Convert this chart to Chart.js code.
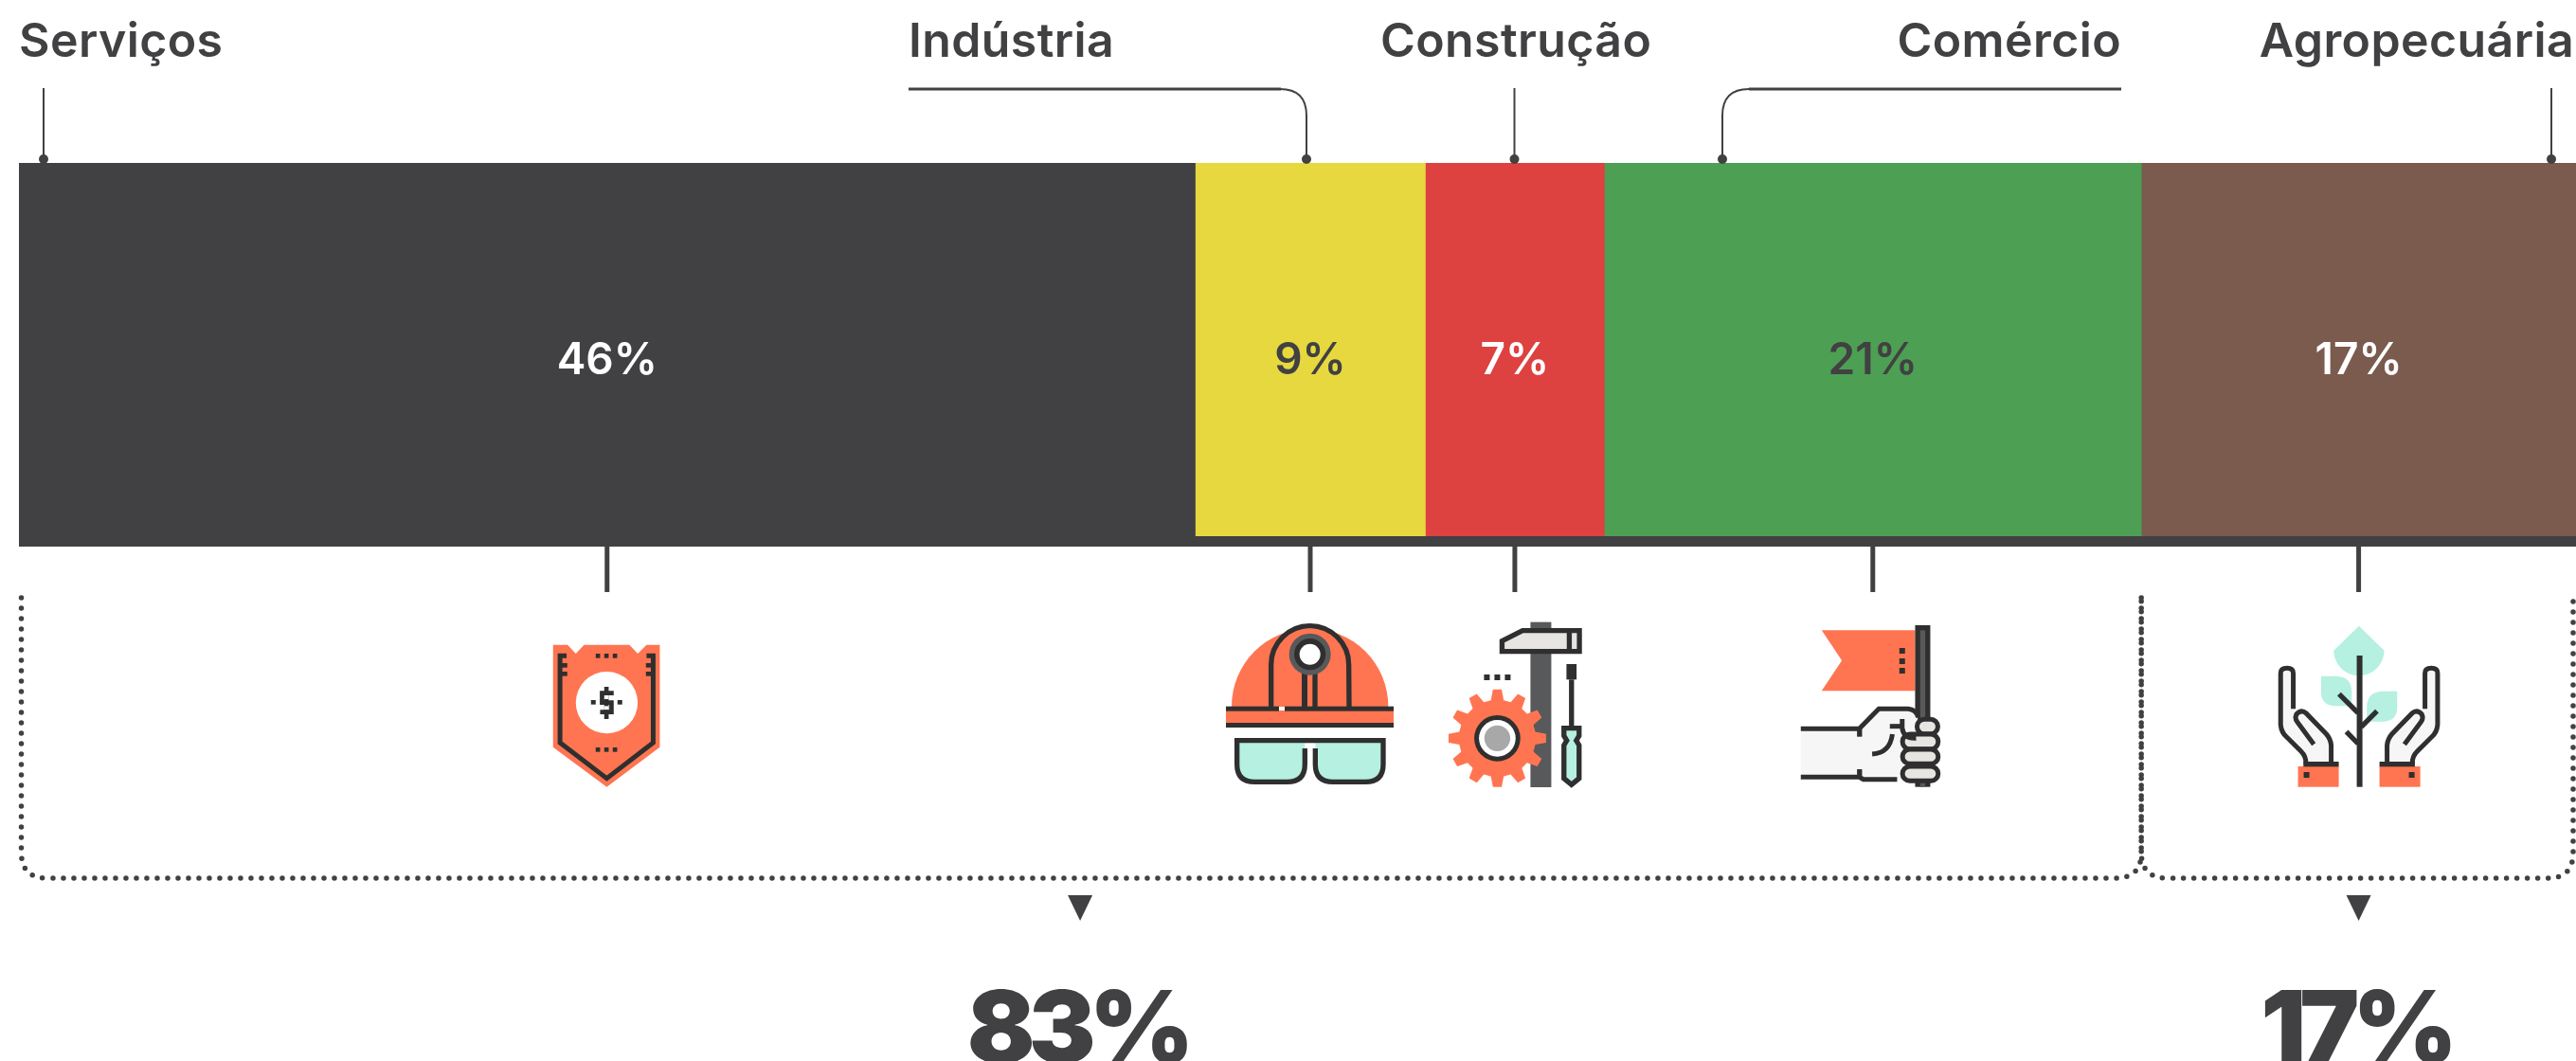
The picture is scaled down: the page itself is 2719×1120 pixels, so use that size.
<!DOCTYPE html>
<html lang="pt">
<head>
<meta charset="utf-8">
<title>Setores</title>
<style>
  html, body { margin: 0; padding: 0; background: #fff; overflow: hidden; }
  canvas { display: block; }
</style>
<script src="https://cdn.jsdelivr.net/npm/chart.js@4"></script>
</head>
<body>
<canvas id="barChart" width="2719" height="1120"></canvas>
<script>
// dados
const categorias = ['Serviços', 'Indústria', 'Construção', 'Comércio', 'Agropecuária'];
const valores = [46, 9, 7, 21, 17];
const grupos = [83, 17];

const ESCURO = '#414042';
const LINHA = '#2f2f2f';
const LARANJA = '#ff7551';
const MENTA = '#b5f0e0';
const CINZA = '#58595b';
const CLARO = '#e6e5e1';
const PELE = '#f6f6f6';
const cores = [ESCURO, '#e6d83e', '#dd4140', '#4d9f53', '#7a5b4e'];
const corTexto = ['#fff', ESCURO, '#fff', ESCURO, '#fff'];
const FONTE = 'Inter, sans-serif';

function quadrado(ctx, x, y, w, h, cor) {
    ctx.fillStyle = cor;
    ctx.fillRect(x, y, w, h);
}

function circulo(ctx, x, y, r, cor) {
    ctx.fillStyle = cor;
    ctx.beginPath();
    ctx.arc(x, y, r, 0, Math.PI * 2);
    ctx.fill();
}

function caminho(ctx, pts, fechar) {
    ctx.beginPath();
    pts.forEach((p, i) => i ? ctx.lineTo(p[0], p[1]) : ctx.moveTo(p[0], p[1]));
    if (fechar) ctx.closePath();
}

// os icones usam coordenadas 3x, o plugin reduz na hora de desenhar
function iconeEscudo(ctx) {
    ctx.fillStyle = LARANJA;
    caminho(ctx, [[132,122],[178,122],[204,150],[230,122],[374,122],[400,150],[428,122],[470,122],[470,446],[302,572],[132,446]], true);
    ctx.fill();
    ctx.strokeStyle = LINHA;
    ctx.lineWidth = 15;
    caminho(ctx, [[175,157],[154,157],[154,432],[302,545],[449,432],[449,157],[428,157]]);
    ctx.stroke();
    [187, 214].forEach(y => {
        quadrado(ctx, 154, y - 7, 23, 14, LINHA);
        quadrado(ctx, 426, y - 7, 23, 14, LINHA);
    });
    [267, 294, 321].forEach(x => {
        quadrado(ctx, x, 150, 14, 14, LINHA);
        quadrado(ctx, x, 447, 14, 14, LINHA);
    });
    circulo(ctx, 302, 305, 98, '#fff');
    quadrado(ctx, 252, 297, 15, 14, LINHA);
    quadrado(ctx, 336, 297, 15, 14, LINHA);
    quadrado(ctx, 294, 255, 14, 102, LINHA);
    quadrado(ctx, 294, 282, 14, 12, '#fff');
    quadrado(ctx, 294, 316, 14, 12, '#fff');
    ctx.lineWidth = 14;
    caminho(ctx, [[324,275],[287,275],[287,305],[317,305],[317,335],[281,335]]);
    ctx.stroke();
}

function iconeCapacete(ctx) {
    ctx.fillStyle = LARANJA;
    ctx.beginPath();
    ctx.arc(338, 318, 248, Math.PI, 0);
    ctx.fill();
    quadrado(ctx, 72, 330, 531, 42, LARANJA);
    quadrado(ctx, 72, 317, 168, 15, LINHA);
    quadrado(ctx, 258, 317, 345, 15, LINHA);
    quadrado(ctx, 72, 369, 531, 15, LINHA);
    ctx.strokeStyle = LINHA;
    ctx.lineWidth = 16;
    ctx.beginPath();
    ctx.moveTo(215, 318);
    ctx.lineTo(215, 185);
    ctx.arc(338, 185, 123, Math.PI, 0);
    ctx.lineTo(462, 318);
    ctx.stroke();
    quadrado(ctx, 312, 205, 18, 113, LINHA);
    quadrado(ctx, 346, 205, 16, 113, LINHA);
    circulo(ctx, 338, 152, 66, CINZA);
    circulo(ctx, 338, 152, 50, LINHA);
    circulo(ctx, 338, 152, 33, '#fff');
    // oculos
    ctx.beginPath();
    ctx.moveTo(322, 450);
    ctx.lineTo(322, 500);
    ctx.quadraticCurveTo(322, 556, 266, 556);
    ctx.lineTo(163, 556);
    ctx.quadraticCurveTo(107, 556, 107, 500);
    ctx.lineTo(107, 425);
    ctx.lineTo(570, 425);
    ctx.lineTo(570, 500);
    ctx.quadraticCurveTo(570, 556, 514, 556);
    ctx.lineTo(411, 556);
    ctx.quadraticCurveTo(355, 556, 355, 500);
    ctx.lineTo(355, 450);
    ctx.fillStyle = MENTA;
    ctx.fill();
    quadrado(ctx, 322, 433, 33, 17, '#fff');
    ctx.stroke();
}

function iconeFerramentas(ctx) {
    quadrado(ctx, 345, 50, 66, 523, CINZA);
    ctx.fillStyle = CLARO;
    ctx.strokeStyle = LINHA;
    ctx.lineWidth = 16;
    caminho(ctx, [[255,110],[320,77],[500,77],[500,143],[255,143]], true);
    ctx.fill();
    ctx.stroke();
    quadrado(ctx, 460, 77, 16, 66, LINHA);
    // engrenagem
    const dentes = 12;
    ctx.fillStyle = LARANJA;
    ctx.beginPath();
    for (let i = 0; i < dentes; i++) {
        const a = i * Math.PI * 2 / dentes - Math.PI / 2;
        const d = Math.PI * 2 / dentes;
        [[-0.32, 122], [-0.17, 155], [0.17, 155], [0.32, 122]].forEach(p => {
            const t = a + p[0] * d;
            const x = 240 + Math.cos(t) * p[1];
            const y = 418 + Math.sin(t) * p[1];
            ctx.lineTo(x, y);
        });
    }
    ctx.closePath();
    ctx.fill();
    circulo(ctx, 240, 418, 73, LINHA);
    circulo(ctx, 240, 418, 58, '#fff');
    circulo(ctx, 240, 418, 41, '#a9a8a9');
    [198, 231, 264].forEach(x => quadrado(ctx, x, 216, 18, 18, LINHA));
    // chave de fenda
    quadrado(ctx, 459, 183, 32, 49, LINHA);
    quadrado(ctx, 467, 232, 16, 150, LINHA);
    ctx.fillStyle = MENTA;
    caminho(ctx, [[451,386],[499,386],[499,410],[490,425],[499,440],[499,545],[475,565],[451,545],[451,440],[460,425],[451,410]], true);
    ctx.fill();
    ctx.stroke();
}

function iconeBandeira(ctx) {
    ctx.fillStyle = LARANJA;
    caminho(ctx, [[126,76],[422,76],[422,268],[126,268],[190,172]], true);
    ctx.fill();
    [132, 165, 195].forEach(y => quadrado(ctx, 372, y, 18, 18, LINHA));
    quadrado(ctx, 422, 60, 48, 512, LINHA);
    quadrado(ctx, 438, 76, 16, 496, CINZA);
    // mao
    ctx.fillStyle = PELE;
    caminho(ctx, [[60,396],[245,388],[305,325],[405,325],[430,350],[430,550],[258,548],[245,535],[60,535]], true);
    ctx.fill();
    ctx.strokeStyle = LINHA;
    ctx.lineWidth = 15;
    ctx.beginPath();
    ctx.moveTo(60, 388);
    ctx.lineTo(245, 388);
    ctx.lineTo(307, 325);
    ctx.lineTo(400, 325);
    ctx.quadraticCurveTo(425, 327, 432, 352);
    ctx.stroke();
    ctx.beginPath();
    ctx.moveTo(60, 541);
    ctx.lineTo(245, 541);
    ctx.lineTo(258, 548);
    ctx.lineTo(365, 548);
    ctx.stroke();
    quadrado(ctx, 238, 388, 16, 25, LINHA);
    quadrado(ctx, 238, 516, 16, 25, LINHA);
    // dedos
    ctx.fillStyle = CLARO;
    [[428,358,66,46],[382,405,113,47],[382,453,113,46],[382,507,113,46]].forEach(d => {
        ctx.beginPath();
        ctx.roundRect(d[0], d[1], d[2], d[3], 23);
        ctx.fill();
        ctx.stroke();
    });
    ctx.beginPath();
    ctx.moveTo(342, 380);
    ctx.lineTo(380, 380);
    ctx.stroke();
    ctx.beginPath();
    ctx.moveTo(381, 357);
    ctx.lineTo(381, 385);
    ctx.quadraticCurveTo(385, 420, 425, 418);
    ctx.stroke();
    ctx.beginPath();
    ctx.moveTo(286, 468);
    ctx.quadraticCurveTo(342, 465, 350, 405);
    ctx.stroke();
}

function maoEsquerda(ctx) {
    ctx.beginPath();
    ctx.moveTo(120, 325);
    ctx.lineTo(120, 212);
    ctx.quadraticCurveTo(120, 196, 100, 196);
    ctx.quadraticCurveTo(80, 196, 80, 212);
    ctx.lineTo(80, 375);
    ctx.quadraticCurveTo(82, 400, 100, 415);
    ctx.lineTo(145, 460);
    ctx.quadraticCurveTo(160, 475, 160, 497);
    ctx.lineTo(240, 497);
    ctx.lineTo(240, 440);
    ctx.quadraticCurveTo(238, 420, 225, 405);
    ctx.lineTo(160, 338);
    ctx.lineTo(120, 325);
    ctx.fillStyle = PELE;
    ctx.fill();
    ctx.strokeStyle = LINHA;
    ctx.lineWidth = 15;
    ctx.beginPath();
    ctx.moveTo(120, 325);
    ctx.lineTo(120, 212);
    ctx.quadraticCurveTo(120, 196, 100, 196);
    ctx.quadraticCurveTo(80, 196, 80, 212);
    ctx.lineTo(80, 375);
    ctx.quadraticCurveTo(82, 400, 100, 415);
    ctx.lineTo(145, 460);
    ctx.quadraticCurveTo(160, 475, 160, 497);
    ctx.moveTo(240, 497);
    ctx.lineTo(240, 440);
    ctx.quadraticCurveTo(238, 420, 225, 405);
    ctx.lineTo(160, 338);
    ctx.quadraticCurveTo(145, 325, 130, 342);
    ctx.quadraticCurveTo(124, 355, 132, 365);
    ctx.lineTo(185, 437);
    ctx.stroke();
    quadrado(ctx, 135, 507, 129, 65, LARANJA);
    quadrado(ctx, 152, 492, 112, 16, LINHA);
    quadrado(ctx, 153, 525, 18, 18, LINHA);
}

function iconeMaos(ctx) {
    ctx.fillStyle = MENTA;
    ctx.beginPath();
    ctx.moveTo(328, 62);
    ctx.lineTo(408, 140);
    ctx.arc(328, 140, 80, 0, Math.PI);
    ctx.closePath();
    ctx.fill();
    ctx.beginPath();
    ctx.moveTo(208, 221);
    ctx.lineTo(255, 221);
    ctx.quadraticCurveTo(305, 223, 305, 270);
    ctx.lineTo(305, 316);
    ctx.lineTo(255, 316);
    ctx.quadraticCurveTo(208, 316, 208, 270);
    ctx.closePath();
    ctx.fill();
    ctx.beginPath();
    ctx.moveTo(449, 269);
    ctx.lineTo(400, 269);
    ctx.quadraticCurveTo(353, 272, 353, 320);
    ctx.lineTo(353, 365);
    ctx.lineTo(400, 365);
    ctx.quadraticCurveTo(449, 365, 449, 320);
    ctx.closePath();
    ctx.fill();
    quadrado(ctx, 321, 156, 18, 416, LINHA);
    ctx.strokeStyle = LINHA;
    ctx.lineWidth = 16;
    [[[265,278],[325,338]], [[385,332],[335,382]], [[288,397],[325,435]]].forEach(r => {
        caminho(ctx, r);
        ctx.stroke();
    });
    maoEsquerda(ctx);
    ctx.save();
    ctx.translate(657, 0);
    ctx.scale(-1, 1);
    maoEsquerda(ctx);
    ctx.restore();
}

// deslocamento de cada icone em relacao ao centro da barra
const icones = [
    { desenha: iconeEscudo, dx: -101 },
    { desenha: iconeCapacete, dx: -113 },
    { desenha: iconeFerramentas, dx: -98.5 },
    { desenha: iconeBandeira, dx: -96 },
    { desenha: iconeMaos, dx: -109 }
];

function chaveta(ctx, x0, x1, yTopo, yBase, r) {
    ctx.beginPath();
    ctx.moveTo(x0, yTopo);
    ctx.lineTo(x0, yBase - r);
    ctx.quadraticCurveTo(x0, yBase, x0 + r, yBase);
    ctx.lineTo(x1 - r, yBase);
    ctx.quadraticCurveTo(x1, yBase, x1, yBase - r);
    ctx.lineTo(x1, yTopo);
    ctx.stroke();
}

const extras = {
    id: 'extras',
    afterDraw(chart) {
        const ctx = chart.ctx;
        const x = chart.scales.x;
        const base = 577, faixa = 11;
        const barras = chart.data.datasets.map((d, i) => chart.getDatasetMeta(i).data[0]);
        const centros = barras.map(b => (b.x + b.base) / 2);
        ctx.save();

        // faixa escura embaixo da barra
        quadrado(ctx, x.getPixelForValue(0), base - faixa, x.getPixelForValue(100) - x.getPixelForValue(0), faixa, ESCURO);

        // porcentagens
        ctx.textAlign = 'center';
        ctx.textBaseline = 'middle';
        ctx.font = '600 46px ' + FONTE;
        valores.forEach((v, i) => {
            ctx.fillStyle = corTexto[i];
            ctx.fillText(v + '%', centros[i], 381);
        });

        // nomes
        ctx.textBaseline = 'alphabetic';
        ctx.fillStyle = ESCURO;
        ctx.font = '600 50px ' + FONTE;
        ctx.letterSpacing = '0.4px';
        ctx.textAlign = 'left';
        ctx.fillText(categorias[0], 20, 60);
        ctx.fillText(categorias[1], 959, 60);
        ctx.fillText(categorias[2], 1457, 60);
        ctx.textAlign = 'right';
        ctx.fillText(categorias[3], 2239, 60);
        ctx.fillText(categorias[4], 2717, 60);
        ctx.letterSpacing = '0px';

        // ligacoes do topo
        ctx.strokeStyle = ESCURO;
        ctx.lineWidth = 2;
        const pontos = [46, 1379, 1598.5, 1818, 2693];
        pontos.forEach(px => circulo(ctx, px, 168, 5, ESCURO));
        [0, 2, 4].forEach(i => {
            ctx.beginPath();
            ctx.moveTo(pontos[i], 93);
            ctx.lineTo(pontos[i], 168);
            ctx.stroke();
        });
        ctx.beginPath();
        ctx.moveTo(pontos[1], 168);
        ctx.lineTo(pontos[1], 122);
        ctx.quadraticCurveTo(pontos[1], 94, 1351, 94);
        ctx.moveTo(pontos[3], 168);
        ctx.lineTo(pontos[3], 122);
        ctx.quadraticCurveTo(pontos[3], 94, 1846, 94);
        ctx.stroke();
        ctx.lineWidth = 3;
        ctx.beginPath();
        ctx.moveTo(959, 94);
        ctx.lineTo(1352, 94);
        ctx.moveTo(1846, 94);
        ctx.lineTo(2239, 94);
        ctx.stroke();

        // tracos embaixo
        ctx.lineWidth = 5;
        centros.forEach(c => {
            ctx.beginPath();
            ctx.moveTo(c, base);
            ctx.lineTo(c, 625);
            ctx.stroke();
        });

        // icones
        icones.forEach((ic, i) => {
            ctx.save();
            ctx.translate(centros[i] + ic.dx, 640);
            ctx.scale(1 / 3, 1 / 3);
            ic.desenha(ctx);
            ctx.restore();
        });

        // chaves pontilhadas e totais
        const divisa = x.getPixelForValue(grupos[0]);
        const inicio = x.getPixelForValue(0);
        const fim = x.getPixelForValue(100);
        ctx.lineWidth = 5.5;
        ctx.lineCap = 'round';
        ctx.setLineDash([0, 11]);
        chaveta(ctx, inicio + 2.5, divisa, 631, 927, 27);
        chaveta(ctx, divisa, fim - 3, 631, 927, 27);
        ctx.setLineDash([]);
        ctx.lineCap = 'butt';

        const meios = [(inicio + divisa) / 2, (divisa + fim) / 2];
        ctx.textAlign = 'center';
        ctx.font = '900 106px ' + FONTE;
        ctx.letterSpacing = '-7px';
        grupos.forEach((g, i) => {
            ctx.fillStyle = ESCURO;
            caminho(ctx, [[meios[i] - 13, 945], [meios[i] + 13, 945], [meios[i], 972]], true);
            ctx.fill();
            ctx.fillText(g + '%', meios[i] - 3, 1122);
        });
        ctx.restore();
    }
};

new Chart(document.getElementById('barChart').getContext('2d'), {
    type: 'bar',
    data: {
        labels: ['Setores'],
        datasets: categorias.map((c, i) => ({
            label: c,
            data: [valores[i]],
            backgroundColor: cores[i],
            borderWidth: 0,
            barPercentage: 1,
            categoryPercentage: 1
        }))
    },
    options: {
        indexAxis: 'y',
        responsive: false,
        animation: false,
        layout: { padding: { left: 20, right: 0, top: 172, bottom: 543 } },
        scales: {
            x: { stacked: true, display: false, min: 0, max: 100 },
            y: { stacked: true, display: false }
        },
        plugins: {
            legend: { display: false },
            tooltip: { enabled: false }
        }
    },
    plugins: [extras]
});
</script>
</body>
</html>
